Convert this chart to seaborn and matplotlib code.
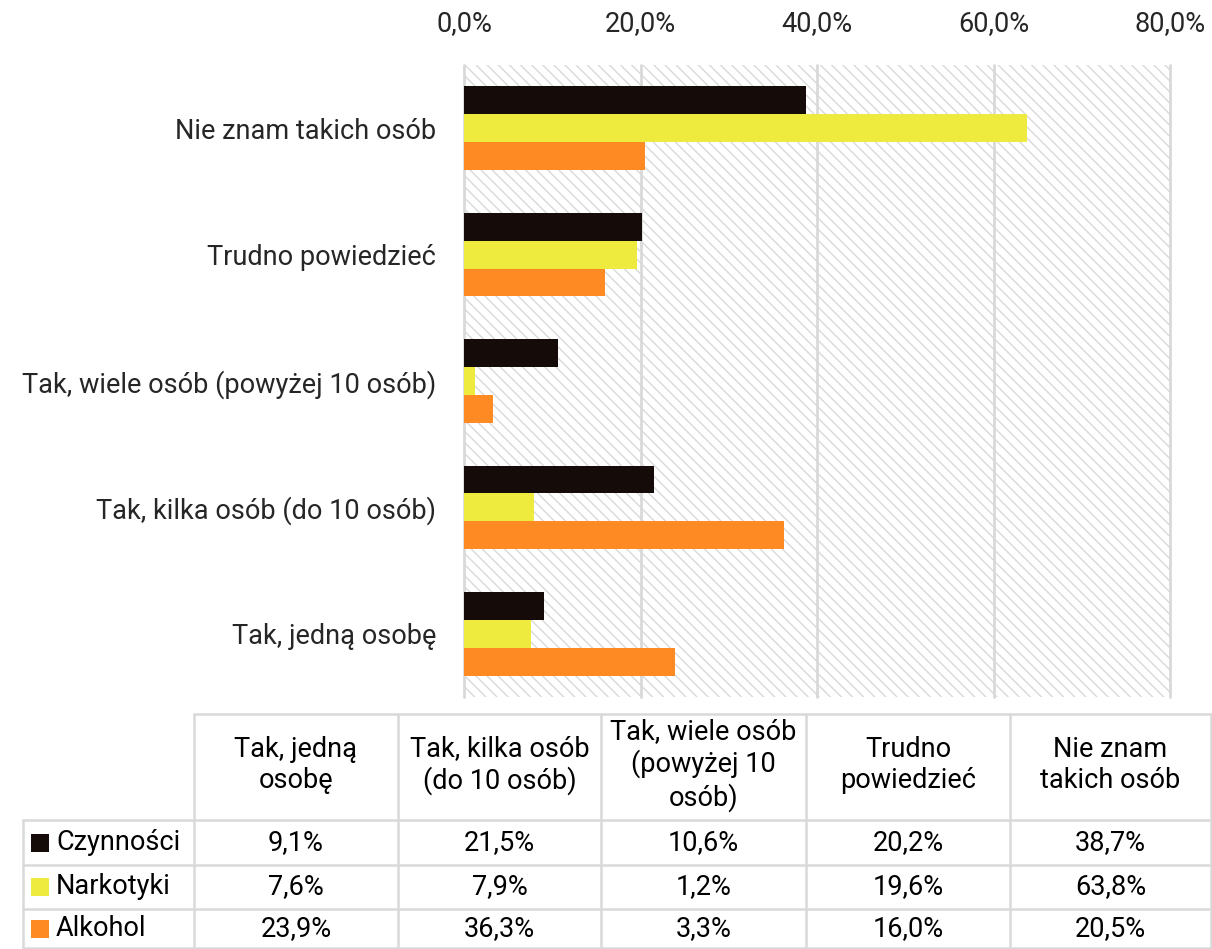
import matplotlib
matplotlib.use("Agg")
import matplotlib.pyplot as plt
from matplotlib.ticker import FuncFormatter
import pandas as pd
import seaborn as sns

categories = ["Tak, jedną osobę", "Tak, kilka osób (do 10 osób)",
              "Tak, wiele osób (powyżej 10 osób)", "Trudno powiedzieć",
              "Nie znam takich osób"]
header_labels = ["Tak, jedną\nosobę", "Tak, kilka osób\n(do 10 osób)",
                 "Tak, wiele osób\n(powyżej 10\nosób)", "Trudno\npowiedzieć",
                 "Nie znam\ntakich osób"]
series = ["Czynności", "Narkotyki", "Alkohol"]
czynnosci = [9.1, 21.5, 10.6, 20.2, 38.7]
narkotyki = [7.6, 7.9, 1.2, 19.6, 63.8]
alkohol = [23.9, 36.3, 3.3, 16.0, 20.5]
x_ticks = [0, 20, 40, 60, 80]
colors = ["#150c09", "#eeea3e", "#fe8a24"]

values = {"Czynności": czynnosci, "Narkotyki": narkotyki, "Alkohol": alkohol}
rows = []
for s in series:
    for c, v in zip(categories, values[s]):
        rows.append({"kategoria": c, "seria": s, "wartosc": v})
df = pd.DataFrame(rows)

sns.set_style("white")
plt.rcParams['font.family'] = ['Roboto', 'DejaVu Sans']
plt.rcParams['hatch.linewidth'] = 1.0
FS = 19.5
GRID = "#d9d9d9"

fig = plt.figure(figsize=(12.12, 9.49), dpi=100)
ax = fig.add_axes([464 / 1212, 1 - 697 / 949, 706 / 1212, 632 / 949])

# hatched background
ax.axvspan(0, 80, facecolor="white", edgecolor=GRID, hatch="\\\\\\",
           linewidth=0, zorder=0)

sns.barplot(data=df, x="wartosc", y="kategoria", hue="seria",
            order=categories[::-1], hue_order=series, palette=colors,
            orient="h", width=0.66, saturation=1, ax=ax, legend=False,
            linewidth=0)

ax.set_xlim(0, 80)
ax.set_ylim(4.5, -0.5)
ax.set_xticks(x_ticks)
ax.xaxis.tick_top()
ax.xaxis.set_major_formatter(FuncFormatter(lambda v, p: f"{v:.1f}%".replace(".", ",")))
ax.tick_params(axis="x", length=0, pad=20, labelsize=FS)
ax.tick_params(axis="y", length=0, pad=20, labelsize=FS)
ax.set_xlabel("")
ax.set_ylabel("")
ax.set_axisbelow(True)
ax.xaxis.grid(True, color=GRID, linewidth=2)
for gl in ax.get_xgridlines():
    gl.set_clip_on(False)
for sp in ax.spines.values():
    sp.set_visible(False)

# data table below the chart, drawn in pixel coordinates
tx = fig.add_axes([0, 0, 1, 1], facecolor="none")
tx.set_xlim(0, 1212)
tx.set_ylim(949, 0)
tx.axis("off")

col_edges = [194, 398, 601, 806, 1010, 1211]
row_edges = [714, 820, 865, 909, 948]
lw = 1.8
# header row lines
tx.plot([col_edges[0], col_edges[-1]], [row_edges[0]] * 2, color=GRID, lw=lw)
for y in row_edges[1:]:
    tx.plot([23, col_edges[-1]], [y, y], color=GRID, lw=lw)
for x in col_edges:
    tx.plot([x, x], [row_edges[0], row_edges[-1]], color=GRID, lw=lw)
tx.plot([23, 23], [row_edges[1], row_edges[-1]], color=GRID, lw=lw)

centers = [(a + b) / 2 for a, b in zip(col_edges[:-1], col_edges[1:])]
for cx, lab in zip(centers, header_labels):
    tx.text(cx, 765, lab, ha="center", va="center", fontsize=FS,
            linespacing=1.22, color="black")

row_centers = [(a + b) / 2 for a, b in zip(row_edges[1:-1], row_edges[2:])]
for ry, s, col in zip(row_centers, series, colors):
    tx.scatter([40], [ry], marker="s", s=170, color=col, linewidths=0)
    tx.text(56, ry, s, ha="left", va="center", fontsize=FS, color="black")
    for cx, v in zip(centers, values[s]):
        tx.text(cx, ry, f"{v:.1f}%".replace(".", ","), ha="center",
                va="center", fontsize=FS, color="black")

plt.savefig("out.png", dpi=100)
